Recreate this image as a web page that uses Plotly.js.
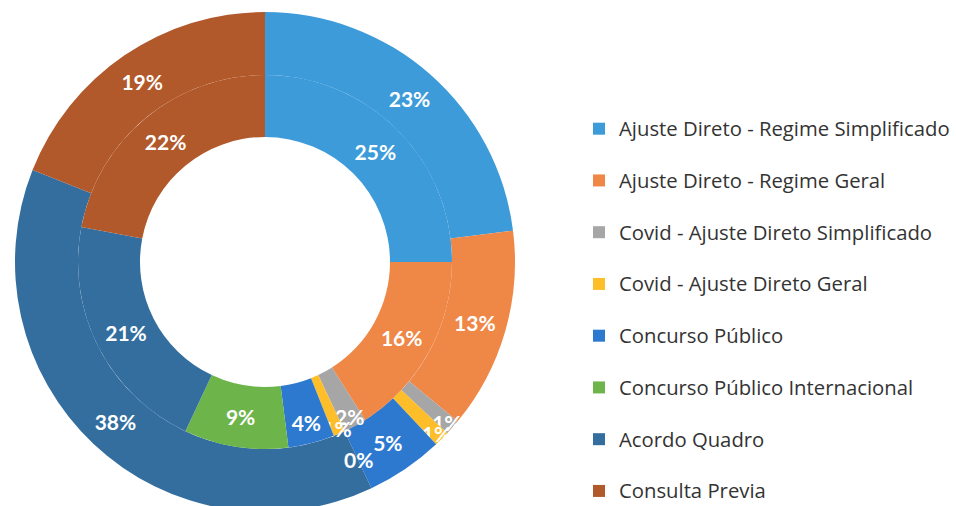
<!DOCTYPE html>
<html>
<head>
<meta charset="utf-8">
<script src="https://cdn.plot.ly/plotly-3.0.1.min.js"></script>
<style>
html,body{margin:0;padding:0;overflow:hidden;background:#fff;width:956px;height:506px;}
#chart{width:956px;height:520px;}
</style>
</head>
<body>
<div id="chart"></div>
<script>
const categories = [
  "Ajuste Direto - Regime Simplificado",
  "Ajuste Direto - Regime Geral",
  "Covid - Ajuste Direto Simplificado",
  "Covid - Ajuste Direto Geral",
  "Concurso Público",
  "Concurso Público Internacional",
  "Acordo Quadro",
  "Consulta Previa"
];
const outerValues = [23, 13, 1, 1, 5, 0, 38, 19];
const innerValues = [25, 16, 2, 1, 4, 9, 21, 22];
const colors = ["#3D9BDA", "#EF8747", "#A6A6A6", "#FDBE2A", "#2C79CF", "#6DB54A", "#336E9F", "#B2592B"];

const W = 956, H = 520;
const cx = 265, cy = 262, rOuter = 250, rMid = 187, rInner = 125;
const labelFont = {family: "Lato, 'Noto Sans', sans-serif", size: 21, color: "#ffffff", weight: "bold"};

const labels = categories.map(c => "<span style='font-size:20.3px'>" + c + "</span><br> ");
function dom(r){
  return {x: [(cx - r) / W, (cx + r) / W], y: [1 - (cy + r) / H, 1 - (cy - r) / H]};
}
function templates(vals){ return vals.map(v => v > 0 ? "%{value}%" : ""); }

// labels of zero-valued slices (Plotly gives them no room), placed at the slice angle
function zeroLabels(vals, r){
  const total = vals.reduce((a, b) => a + b, 0);
  let cum = 0; const out = [];
  vals.forEach(v => {
    cum += v;
    if (v === 0) {
      const a = cum / total * 2 * Math.PI;
      out.push({
        xref: "paper", yref: "paper",
        x: (cx + r * Math.sin(a)) / W, y: 1 - (cy - r * Math.cos(a)) / H,
        xanchor: "center", yanchor: "middle",
        text: v + "%", showarrow: false, font: labelFont
      });
    }
  });
  return out;
}

const common = {
  type: "pie",
  labels: labels,
  sort: false,
  direction: "clockwise",
  rotation: 0,
  marker: {colors: colors, line: {width: 0}},
  textinfo: "none",
  textposition: "inside",
  insidetextorientation: "horizontal",
  textfont: labelFont,
  hoverinfo: "label+value"
};
const outer = Object.assign({}, common, {
  values: outerValues,
  texttemplate: templates(outerValues),
  hole: rMid / rOuter,
  domain: dom(rOuter),
  showlegend: true
});
const inner = Object.assign({}, common, {
  values: innerValues,
  texttemplate: templates(innerValues),
  hole: rInner / rMid,
  domain: dom(rMid),
  showlegend: false
});

const layout = {
  width: W, height: H,
  margin: {l: 0, r: 0, t: 0, b: 0, autoexpand: false},
  paper_bgcolor: "#ffffff",
  showlegend: true,
  uniformtext: {minsize: 21, mode: "show"},
  annotations: zeroLabels(outerValues, (rMid + rOuter) / 2),
  legend: {
    x: 579 / W, xanchor: "left",
    y: 1 - 110 / H, yanchor: "top",
    valign: "top",
    font: {family: "'Open Sans', 'Noto Sans', sans-serif", size: 18.75, color: "#333333"},
    bgcolor: "rgba(0,0,0,0)",
    borderwidth: 0
  }
};
Plotly.newPlot("chart", [outer, inner], layout, {displayModeBar: false, staticPlot: true});
</script>
</body>
</html>
